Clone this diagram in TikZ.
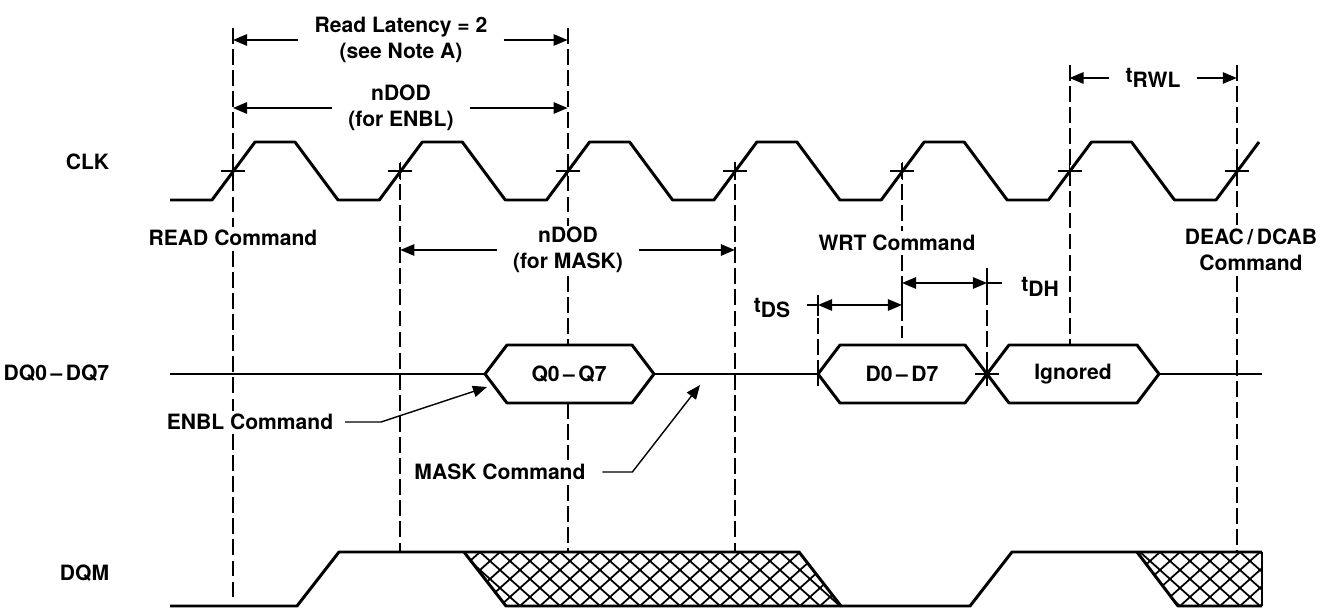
\documentclass[tikz,border=0pt]{standalone}
\usepackage{fontspec}
\setmainfont{TeX Gyre Heros}
\usepackage{tikz}
\usetikzlibrary{arrows.meta}
\tikzset{
	wavestyle/.style={line width=1.7pt,line join=round},
	guidestyle/.style={line width=0.8pt,dash pattern=on 9pt off 3pt},
	hatchstyle/.style={line width=1pt},
	tickstyle/.style={line width=0.8pt},
	dimstyle/.style={line width=0.9pt,-{Triangle[length=8pt,width=6.5pt]}},
	bothstyle/.style={line width=0.9pt,{Triangle[length=8pt,width=6.5pt]}-{Triangle[length=8pt,width=6.5pt]}},
	leadstyle/.style={line width=0.8pt,-{Triangle[length=8pt,width=6.5pt]}},
	labelstyle/.style={font=\fontsize{12}{15}\selectfont\bfseries,inner sep=2pt},
	gapstyle/.style={labelstyle,align=center,inner xsep=9pt,inner ysep=0pt},
	signalstyle/.style={labelstyle,anchor=east}
}
\newcommand{\tsub}[1]{t\raisebox{-2.5pt}{#1}}

\begin{document}
\begin{tikzpicture}[x=0.02cm,y=-0.02cm]
	\useasboundingbox (0,0) rectangle (1330,611);
	\foreach \k in {0,...,6}
		\coordinate (c\k) at ({233+167.3*\k},171);
	\foreach \x/\ya/\yb in {233/28/227,233/251/411,233/434/598,400/163/552,568/28/226,568/276/345,568/403/460,568/485/552,735/163/552,902/163/231,902/255/283,902/305/338,1070/65/345,1237/65/225,1237/276/552,818/297/362,987/268/362}
		\draw[guidestyle] (\x,\ya) -- (\x,\yb);

	\draw[wavestyle] (170,200) \foreach \k in {0,...,5} {
		-- ({212+167.3*\k},200) -- ({255+167.3*\k},142) -- ({295+167.3*\k},142) -- ({338+167.3*\k},200)
	} -- (1216,200) -- (1259,142);
	\foreach \k in {0,...,6}
		\draw[tickstyle] (c\k) ++(-12,0) -- ++(24,0) (c\k) ++(0,-9) -- ++(0,18);

	\draw[wavestyle] (170,374) -- (485,374) (654,374) -- (818,374) (1159,374) -- (1262,374);
	\draw[wavestyle] (485,374) -- (507,345) -- (632,345) -- (654,374) -- (632,403) -- (507,403) -- cycle;
	\draw[wavestyle] (818,374) -- (840,345) -- (965,345) -- (987,374) -- (965,403) -- (840,403) -- cycle;
	\draw[wavestyle] (987,374) -- (1009,345) -- (1137,345) -- (1159,374) -- (1137,403) -- (1009,403) -- cycle;
	\draw[tickstyle] (818,362) -- (818,386) (975,374) -- (999,374) (987,362) -- (987,386);

	\begin{scope}
		\clip (464,552) -- (799,552) -- (841,606) -- (506,606) -- cycle;
		\foreach \x in {400,420,...,920}
			\draw[hatchstyle] (\x,606) -- ++(60,-54) (\x,606) -- ++(-60,-54);
	\end{scope}
	\begin{scope}
		\clip (1137,552) -- (1262,552) -- (1262,606) -- (1178,606) -- cycle;
		\foreach \x in {1080,1100,...,1340}
			\draw[hatchstyle] (\x,606) -- ++(60,-54) (\x,606) -- ++(-60,-54);
	\end{scope}
	\draw[wavestyle] (170,606) -- (297,606) -- (339,552) -- (799,552) -- (841,606) -- (970,606) -- (1012,552) -- (1262,552);
	\draw[wavestyle] (464,552) -- (506,606) -- (841,606);
	\draw[wavestyle] (1137,552) -- (1178,606) -- (1262,606);
	\draw[tickstyle] (1262,552) -- (1262,606);

	\node[signalstyle] (clk) at (113,162) {CLK};
	\node[signalstyle] (dq) at (113,373) {DQ0\,--\,DQ7};
	\node[signalstyle] (dqm) at (113,573) {DQM};

	\node[labelstyle] (q) at (569,374) {Q0\,--\,Q7};
	\node[labelstyle] (d) at (902,374) {D0\,--\,D7};
	\node[labelstyle] (ign) at (1073,374) {Ignored};

	\node[labelstyle] (read) at (233,238) {READ Command};
	\node[labelstyle] (wrt) at (897,243) {WRT Command};
	\node[labelstyle,align=center] (deac) at (1251,250) {DEAC\,/\,DCAB\\Command};
	\node[labelstyle] (enbl) at (250,422) {ENBL Command};
	\node[labelstyle] (mask) at (500,472) {MASK Command};
	\node[labelstyle] (tds) at (772,308) {\tsub{DS}};
	\node[labelstyle] (tdh) at (1040,287) {\tsub{DH}};

	\node[gapstyle] (rl) at (401,40) {Read Latency = 2\\(see Note A)};
	\node[gapstyle] (dode) at (401,108) {nDOD\\(for ENBL)};
	\node[gapstyle] (dodm) at (568,250) {nDOD\\(for MASK)};
	\node[gapstyle] (rwl) at (1153,78) {\tsub{RWL}};

	\draw[dimstyle] (rl.west) -- (rl.west -| c0);
	\draw[dimstyle] (rl.east) -- (rl.east -| c2);
	\draw[dimstyle] (dode.west) -- (dode.west -| c0);
	\draw[dimstyle] (dode.east) -- (dode.east -| c2);
	\draw[dimstyle] (dodm.west) -- (dodm.west -| c1);
	\draw[dimstyle] (dodm.east) -- (dodm.east -| c3);
	\draw[dimstyle] (rwl.west) -- (rwl.west -| c5);
	\draw[dimstyle] (rwl.east) -- (rwl.east -| c6);

	\coordinate (dsa) at (818,305);
	\coordinate (dsb) at (902,305);
	\coordinate (dha) at (902,283);
	\coordinate (dhb) at (987,283);
	\draw[bothstyle] (dsa) -- (dsb);
	\draw[bothstyle] (dha) -- (dhb);
	\draw[tickstyle] (807,305) -- (dsa) (818,295) -- (818,316) (dha) -- (dsb) (dhb) -- (1002,283) (987,272) -- (987,294);

	\coordinate (enbltip) at (487,387);
	\coordinate (masktip) at (700,385);
	\draw[leadstyle] (enbl.east) ++(8,0) -- ++(36,0) -- (enbltip);
	\draw[leadstyle] (mask.east) ++(13,0) -- ++(30,0) -- (masktip);
\end{tikzpicture}
\end{document}
